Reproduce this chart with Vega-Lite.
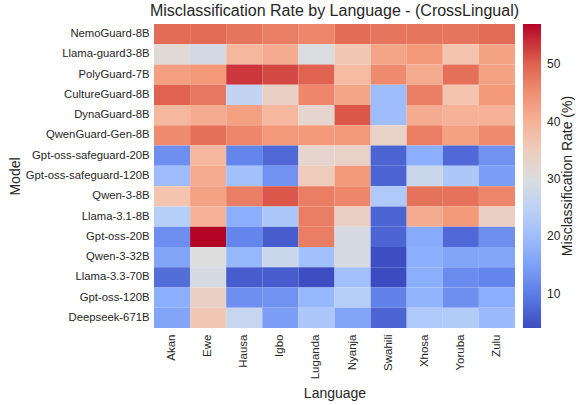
{
  "$schema": "https://vega.github.io/schema/vega-lite/v6.json",
  "autosize": "none",
  "width": 361,
  "height": 304,
  "padding": {"left": 154, "top": 24, "right": 64, "bottom": 77},
  "background": "white",
  "config": {
    "font": "Liberation Sans",
    "view": {"stroke": null},
    "axis": {"labelColor": "#262626", "titleColor": "#262626", "titleFontWeight": "normal", "domain": false, "ticks": false, "grid": false},
    "legend": {"labelColor": "#262626", "titleColor": "#262626"}
  },
  "title": {"text": "Misclassification Rate by Language - (CrossLingual)", "fontSize": 16, "fontWeight": "normal", "color": "#262626", "anchor": "middle", "offset": 5},
  "datasets": {
    "cells": [
      {"model": "NemoGuard-8B", "language": "Akan", "rate": 49}, {"model": "NemoGuard-8B", "language": "Ewe", "rate": 49}, {"model": "NemoGuard-8B", "language": "Hausa", "rate": 48}, {"model": "NemoGuard-8B", "language": "Igbo", "rate": 47}, {"model": "NemoGuard-8B", "language": "Luganda", "rate": 46}, {"model": "NemoGuard-8B", "language": "Nyanja", "rate": 49}, {"model": "NemoGuard-8B", "language": "Swahili", "rate": 48}, {"model": "NemoGuard-8B", "language": "Xhosa", "rate": 48}, {"model": "NemoGuard-8B", "language": "Yoruba", "rate": 48}, {"model": "NemoGuard-8B", "language": "Zulu", "rate": 49},
      {"model": "Llama-guard3-8B", "language": "Akan", "rate": 31.5}, {"model": "Llama-guard3-8B", "language": "Ewe", "rate": 28.6}, {"model": "Llama-guard3-8B", "language": "Hausa", "rate": 39}, {"model": "Llama-guard3-8B", "language": "Igbo", "rate": 41}, {"model": "Llama-guard3-8B", "language": "Luganda", "rate": 30}, {"model": "Llama-guard3-8B", "language": "Nyanja", "rate": 36.3}, {"model": "Llama-guard3-8B", "language": "Swahili", "rate": 42}, {"model": "Llama-guard3-8B", "language": "Xhosa", "rate": 44}, {"model": "Llama-guard3-8B", "language": "Yoruba", "rate": 37}, {"model": "Llama-guard3-8B", "language": "Zulu", "rate": 42.5},
      {"model": "PolyGuard-7B", "language": "Akan", "rate": 43}, {"model": "PolyGuard-7B", "language": "Ewe", "rate": 43.7}, {"model": "PolyGuard-7B", "language": "Hausa", "rate": 53.3}, {"model": "PolyGuard-7B", "language": "Igbo", "rate": 52}, {"model": "PolyGuard-7B", "language": "Luganda", "rate": 50}, {"model": "PolyGuard-7B", "language": "Nyanja", "rate": 38.5}, {"model": "PolyGuard-7B", "language": "Swahili", "rate": 45.4}, {"model": "PolyGuard-7B", "language": "Xhosa", "rate": 41}, {"model": "PolyGuard-7B", "language": "Yoruba", "rate": 48.5}, {"model": "PolyGuard-7B", "language": "Zulu", "rate": 42.5},
      {"model": "CultureGuard-8B", "language": "Akan", "rate": 50}, {"model": "CultureGuard-8B", "language": "Ewe", "rate": 47.7}, {"model": "CultureGuard-8B", "language": "Hausa", "rate": 25.7}, {"model": "CultureGuard-8B", "language": "Igbo", "rate": 34}, {"model": "CultureGuard-8B", "language": "Luganda", "rate": 46}, {"model": "CultureGuard-8B", "language": "Nyanja", "rate": 42}, {"model": "CultureGuard-8B", "language": "Swahili", "rate": 20}, {"model": "CultureGuard-8B", "language": "Xhosa", "rate": 47}, {"model": "CultureGuard-8B", "language": "Yoruba", "rate": 37}, {"model": "CultureGuard-8B", "language": "Zulu", "rate": 43.7},
      {"model": "DynaGuard-8B", "language": "Akan", "rate": 39}, {"model": "DynaGuard-8B", "language": "Ewe", "rate": 41}, {"model": "DynaGuard-8B", "language": "Hausa", "rate": 42.7}, {"model": "DynaGuard-8B", "language": "Igbo", "rate": 39}, {"model": "DynaGuard-8B", "language": "Luganda", "rate": 32.6}, {"model": "DynaGuard-8B", "language": "Nyanja", "rate": 51}, {"model": "DynaGuard-8B", "language": "Swahili", "rate": 20}, {"model": "DynaGuard-8B", "language": "Xhosa", "rate": 41}, {"model": "DynaGuard-8B", "language": "Yoruba", "rate": 40}, {"model": "DynaGuard-8B", "language": "Zulu", "rate": 40},
      {"model": "QwenGuard-Gen-8B", "language": "Akan", "rate": 45.4}, {"model": "QwenGuard-Gen-8B", "language": "Ewe", "rate": 48.5}, {"model": "QwenGuard-Gen-8B", "language": "Hausa", "rate": 46}, {"model": "QwenGuard-Gen-8B", "language": "Igbo", "rate": 44}, {"model": "QwenGuard-Gen-8B", "language": "Luganda", "rate": 43.7}, {"model": "QwenGuard-Gen-8B", "language": "Nyanja", "rate": 44}, {"model": "QwenGuard-Gen-8B", "language": "Swahili", "rate": 33.4}, {"model": "QwenGuard-Gen-8B", "language": "Xhosa", "rate": 47}, {"model": "QwenGuard-Gen-8B", "language": "Yoruba", "rate": 42.7}, {"model": "QwenGuard-Gen-8B", "language": "Zulu", "rate": 45.4},
      {"model": "Gpt-oss-safeguard-20B", "language": "Akan", "rate": 12.5}, {"model": "Gpt-oss-safeguard-20B", "language": "Ewe", "rate": 39}, {"model": "Gpt-oss-safeguard-20B", "language": "Hausa", "rate": 11}, {"model": "Gpt-oss-safeguard-20B", "language": "Igbo", "rate": 7.5}, {"model": "Gpt-oss-safeguard-20B", "language": "Luganda", "rate": 32.6}, {"model": "Gpt-oss-safeguard-20B", "language": "Nyanja", "rate": 33.4}, {"model": "Gpt-oss-safeguard-20B", "language": "Swahili", "rate": 7}, {"model": "Gpt-oss-safeguard-20B", "language": "Xhosa", "rate": 17}, {"model": "Gpt-oss-safeguard-20B", "language": "Yoruba", "rate": 7.5}, {"model": "Gpt-oss-safeguard-20B", "language": "Zulu", "rate": 13},
      {"model": "Gpt-oss-safeguard-120B", "language": "Akan", "rate": 20}, {"model": "Gpt-oss-safeguard-120B", "language": "Ewe", "rate": 41}, {"model": "Gpt-oss-safeguard-120B", "language": "Hausa", "rate": 20.5}, {"model": "Gpt-oss-safeguard-120B", "language": "Igbo", "rate": 13}, {"model": "Gpt-oss-safeguard-120B", "language": "Luganda", "rate": 35.3}, {"model": "Gpt-oss-safeguard-120B", "language": "Nyanja", "rate": 43.7}, {"model": "Gpt-oss-safeguard-120B", "language": "Swahili", "rate": 7}, {"model": "Gpt-oss-safeguard-120B", "language": "Xhosa", "rate": 27}, {"model": "Gpt-oss-safeguard-120B", "language": "Yoruba", "rate": 22}, {"model": "Gpt-oss-safeguard-120B", "language": "Zulu", "rate": 14.6},
      {"model": "Qwen-3-8B", "language": "Akan", "rate": 37}, {"model": "Qwen-3-8B", "language": "Ewe", "rate": 42.5}, {"model": "Qwen-3-8B", "language": "Hausa", "rate": 47}, {"model": "Qwen-3-8B", "language": "Igbo", "rate": 51}, {"model": "Qwen-3-8B", "language": "Luganda", "rate": 47}, {"model": "Qwen-3-8B", "language": "Nyanja", "rate": 46}, {"model": "Qwen-3-8B", "language": "Swahili", "rate": 22.5}, {"model": "Qwen-3-8B", "language": "Xhosa", "rate": 48.3}, {"model": "Qwen-3-8B", "language": "Yoruba", "rate": 48.3}, {"model": "Qwen-3-8B", "language": "Zulu", "rate": 46},
      {"model": "Llama-3.1-8B", "language": "Akan", "rate": 23.6}, {"model": "Llama-3.1-8B", "language": "Ewe", "rate": 40}, {"model": "Llama-3.1-8B", "language": "Hausa", "rate": 17}, {"model": "Llama-3.1-8B", "language": "Igbo", "rate": 22}, {"model": "Llama-3.1-8B", "language": "Luganda", "rate": 47}, {"model": "Llama-3.1-8B", "language": "Nyanja", "rate": 34}, {"model": "Llama-3.1-8B", "language": "Swahili", "rate": 7}, {"model": "Llama-3.1-8B", "language": "Xhosa", "rate": 41}, {"model": "Llama-3.1-8B", "language": "Yoruba", "rate": 43.7}, {"model": "Llama-3.1-8B", "language": "Zulu", "rate": 34},
      {"model": "Gpt-oss-20B", "language": "Akan", "rate": 12.5}, {"model": "Gpt-oss-20B", "language": "Ewe", "rate": 57}, {"model": "Gpt-oss-20B", "language": "Hausa", "rate": 11}, {"model": "Gpt-oss-20B", "language": "Igbo", "rate": 6}, {"model": "Gpt-oss-20B", "language": "Luganda", "rate": 47}, {"model": "Gpt-oss-20B", "language": "Nyanja", "rate": 29}, {"model": "Gpt-oss-20B", "language": "Swahili", "rate": 7}, {"model": "Gpt-oss-20B", "language": "Xhosa", "rate": 16.5}, {"model": "Gpt-oss-20B", "language": "Yoruba", "rate": 7.5}, {"model": "Gpt-oss-20B", "language": "Zulu", "rate": 12.5},
      {"model": "Qwen-3-32B", "language": "Akan", "rate": 15.5}, {"model": "Qwen-3-32B", "language": "Ewe", "rate": 30.5}, {"model": "Qwen-3-32B", "language": "Hausa", "rate": 19}, {"model": "Qwen-3-32B", "language": "Igbo", "rate": 27}, {"model": "Qwen-3-32B", "language": "Luganda", "rate": 20.5}, {"model": "Qwen-3-32B", "language": "Nyanja", "rate": 29}, {"model": "Qwen-3-32B", "language": "Swahili", "rate": 4.3}, {"model": "Qwen-3-32B", "language": "Xhosa", "rate": 17}, {"model": "Qwen-3-32B", "language": "Yoruba", "rate": 15.5}, {"model": "Qwen-3-32B", "language": "Zulu", "rate": 16},
      {"model": "Llama-3.3-70B", "language": "Akan", "rate": 8}, {"model": "Llama-3.3-70B", "language": "Ewe", "rate": 29}, {"model": "Llama-3.3-70B", "language": "Hausa", "rate": 6}, {"model": "Llama-3.3-70B", "language": "Igbo", "rate": 6}, {"model": "Llama-3.3-70B", "language": "Luganda", "rate": 4.3}, {"model": "Llama-3.3-70B", "language": "Nyanja", "rate": 20.5}, {"model": "Llama-3.3-70B", "language": "Swahili", "rate": 4}, {"model": "Llama-3.3-70B", "language": "Xhosa", "rate": 17}, {"model": "Llama-3.3-70B", "language": "Yoruba", "rate": 12}, {"model": "Llama-3.3-70B", "language": "Zulu", "rate": 11},
      {"model": "Gpt-oss-120B", "language": "Akan", "rate": 17}, {"model": "Gpt-oss-120B", "language": "Ewe", "rate": 34}, {"model": "Gpt-oss-120B", "language": "Hausa", "rate": 12.5}, {"model": "Gpt-oss-120B", "language": "Igbo", "rate": 13}, {"model": "Gpt-oss-120B", "language": "Luganda", "rate": 19}, {"model": "Gpt-oss-120B", "language": "Nyanja", "rate": 23.6}, {"model": "Gpt-oss-120B", "language": "Swahili", "rate": 10.5}, {"model": "Gpt-oss-120B", "language": "Xhosa", "rate": 18}, {"model": "Gpt-oss-120B", "language": "Yoruba", "rate": 12.5}, {"model": "Gpt-oss-120B", "language": "Zulu", "rate": 17},
      {"model": "Deepseek-671B", "language": "Akan", "rate": 15.5}, {"model": "Deepseek-671B", "language": "Ewe", "rate": 36.3}, {"model": "Deepseek-671B", "language": "Hausa", "rate": 26.5}, {"model": "Deepseek-671B", "language": "Igbo", "rate": 14.6}, {"model": "Deepseek-671B", "language": "Luganda", "rate": 22}, {"model": "Deepseek-671B", "language": "Nyanja", "rate": 15.5}, {"model": "Deepseek-671B", "language": "Swahili", "rate": 7}, {"model": "Deepseek-671B", "language": "Xhosa", "rate": 22.5}, {"model": "Deepseek-671B", "language": "Yoruba", "rate": 23}, {"model": "Deepseek-671B", "language": "Zulu", "rate": 19.4}
    ]
  },
  "data": {"name": "cells"},
  "mark": {"type": "rect", "strokeWidth": 0},
  "encoding": {
    "x": {
      "field": "language", "type": "nominal", "sort": null,
      "scale": {"paddingInner": 0, "paddingOuter": 0},
      "axis": {"title": "Language", "labelAngle": -90, "labelFontSize": 11.5, "titleFontSize": 14, "labelPadding": 6, "titleY": 58, "titleBaseline": "top"}
    },
    "y": {
      "field": "model", "type": "nominal", "sort": null,
      "scale": {"paddingInner": 0, "paddingOuter": 0},
      "axis": {"title": "Model", "labelFontSize": 11.3, "titleFontSize": 14, "labelPadding": 5, "titleX": -139, "titleY": 152, "titleAngle": 270, "titleBaseline": "middle", "titleAlign": "center"}
    },
    "color": {
      "field": "rate", "type": "quantitative",
      "scale": {
        "domain": [4, 10.625, 17.25, 23.875, 30.5, 37.125, 43.75, 50.375, 57],
        "range": ["#3b4cc0", "#6282ea", "#8db0fe", "#b8d0f9", "#dddddd", "#f5c4ad", "#f49a7b", "#de604d", "#b40426"],
        "interpolate": "rgb"
      },
      "legend": {
        "title": "Misclassification Rate (%)",
        "orient": "none", "legendX": 369, "legendY": 0,
        "direction": "vertical",
        "gradientLength": 304, "gradientThickness": 18,
        "gradientStrokeWidth": 0,
        "values": [10, 20, 30, 40, 50],
        "labelFontSize": 12, "labelOffset": 6,
        "titleFontSize": 14, "titleFontWeight": "normal",
        "titleOrient": "right", "titleAnchor": "middle", "titleAlign": "center", "titleBaseline": "middle", "titlePadding": 8,
        "encode": {"title": {"update": {"angle": {"value": 270}}}}
      }
    }
  }
}
